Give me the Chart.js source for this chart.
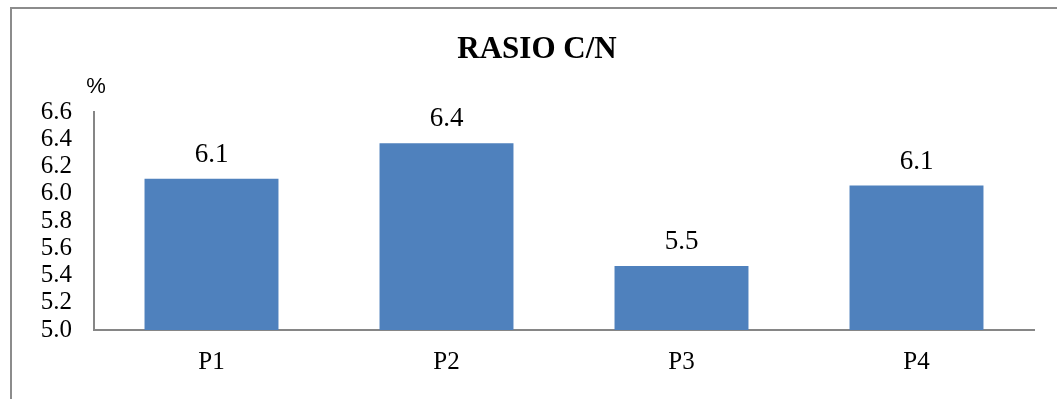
<!DOCTYPE html>
<html>
<head>
<meta charset="utf-8">
<script src="https://cdn.jsdelivr.net/npm/chart.js@4"></script>
<style>
  html, body { margin: 0; padding: 0; background: #ffffff; }
  #wrap { position: relative; width: 1057px; height: 399px; }
</style>
</head>
<body>
<div id="wrap"><canvas id="c" width="1057" height="399"></canvas></div>
<script>
// C/N ratio per treatment
const categories = ['P1', 'P2', 'P3', 'P4'];
const ratioValues = [6.11, 6.37, 5.47, 6.06];
const yTicks = [5.0, 5.2, 5.4, 5.6, 5.8, 6.0, 6.2, 6.4, 6.6];
const chartTitle = 'RASIO C/N';
const unitLabel = '%';

const SERIF = '"Liberation Serif", "Times New Roman", serif';
const SANS = 'Arial, "Liberation Sans", sans-serif';
const AXIS_GREY = '#868686';

// Frame lines, title, unit and value labels
const decorations = {
  id: 'decorations',
  beforeDraw(chart) {
    const ctx = chart.ctx;
    ctx.save();
    ctx.strokeStyle = '#8c8c8c';
    ctx.lineWidth = 2;
    ctx.beginPath();
    ctx.moveTo(11, 399);
    ctx.lineTo(11, 8);
    ctx.lineTo(1057, 8);
    ctx.stroke();
    ctx.restore();
  },
  afterDatasetsDraw(chart) {
    const ctx = chart.ctx;
    ctx.save();
    ctx.fillStyle = '#000000';
    ctx.textAlign = 'center';
    ctx.textBaseline = 'alphabetic';
    ctx.font = 'bold 31px ' + SERIF;
    ctx.fillText(chartTitle, 537, 58);

    ctx.font = '22px ' + SANS;
    ctx.fillText(unitLabel, 96, 93);

    ctx.font = '27px ' + SERIF;
    const meta = chart.getDatasetMeta(0);
    meta.data.forEach((bar, i) => {
      ctx.fillText(ratioValues[i].toFixed(1), bar.x, bar.y - 17);
    });
    ctx.restore();
  }
};

new Chart(document.getElementById('c'), {
  type: 'bar',
  data: {
    labels: categories,
    datasets: [{
      data: ratioValues,
      backgroundColor: '#4F81BD',
      borderWidth: 0,
      categoryPercentage: 1.0,
      barPercentage: 0.57
    }]
  },
  options: {
    responsive: false,
    animation: false,
    layout: { padding: { left: 0, top: 112, right: 23, bottom: 0 } },
    plugins: {
      legend: { display: false },
      title: { display: false },
      tooltip: { enabled: false }
    },
    scales: {
      x: {
        grid: { display: false, drawTicks: false },
        border: { display: true, color: AXIS_GREY, width: 2 },
        ticks: {
          color: '#000000',
          font: { family: SERIF, size: 25 },
          padding: 17
        },
        afterFit(scale) { scale.height = 69; }
      },
      y: {
        min: yTicks[0],
        max: yTicks[yTicks.length - 1],
        grid: { display: false, drawTicks: false },
        border: { display: true, color: AXIS_GREY, width: 2 },
        afterBuildTicks(scale) {
          scale.ticks = yTicks.map(v => ({ value: v }));
        },
        ticks: {
          autoSkip: false,
          color: '#000000',
          font: { family: SERIF, size: 25, lineHeight: 1.0 },
          padding: 22,
          callback: v => Number(v).toFixed(1)
        },
        afterFit(scale) { scale.width = 94; }
      }
    }
  },
  plugins: [decorations]
});
</script>
</body>
</html>
